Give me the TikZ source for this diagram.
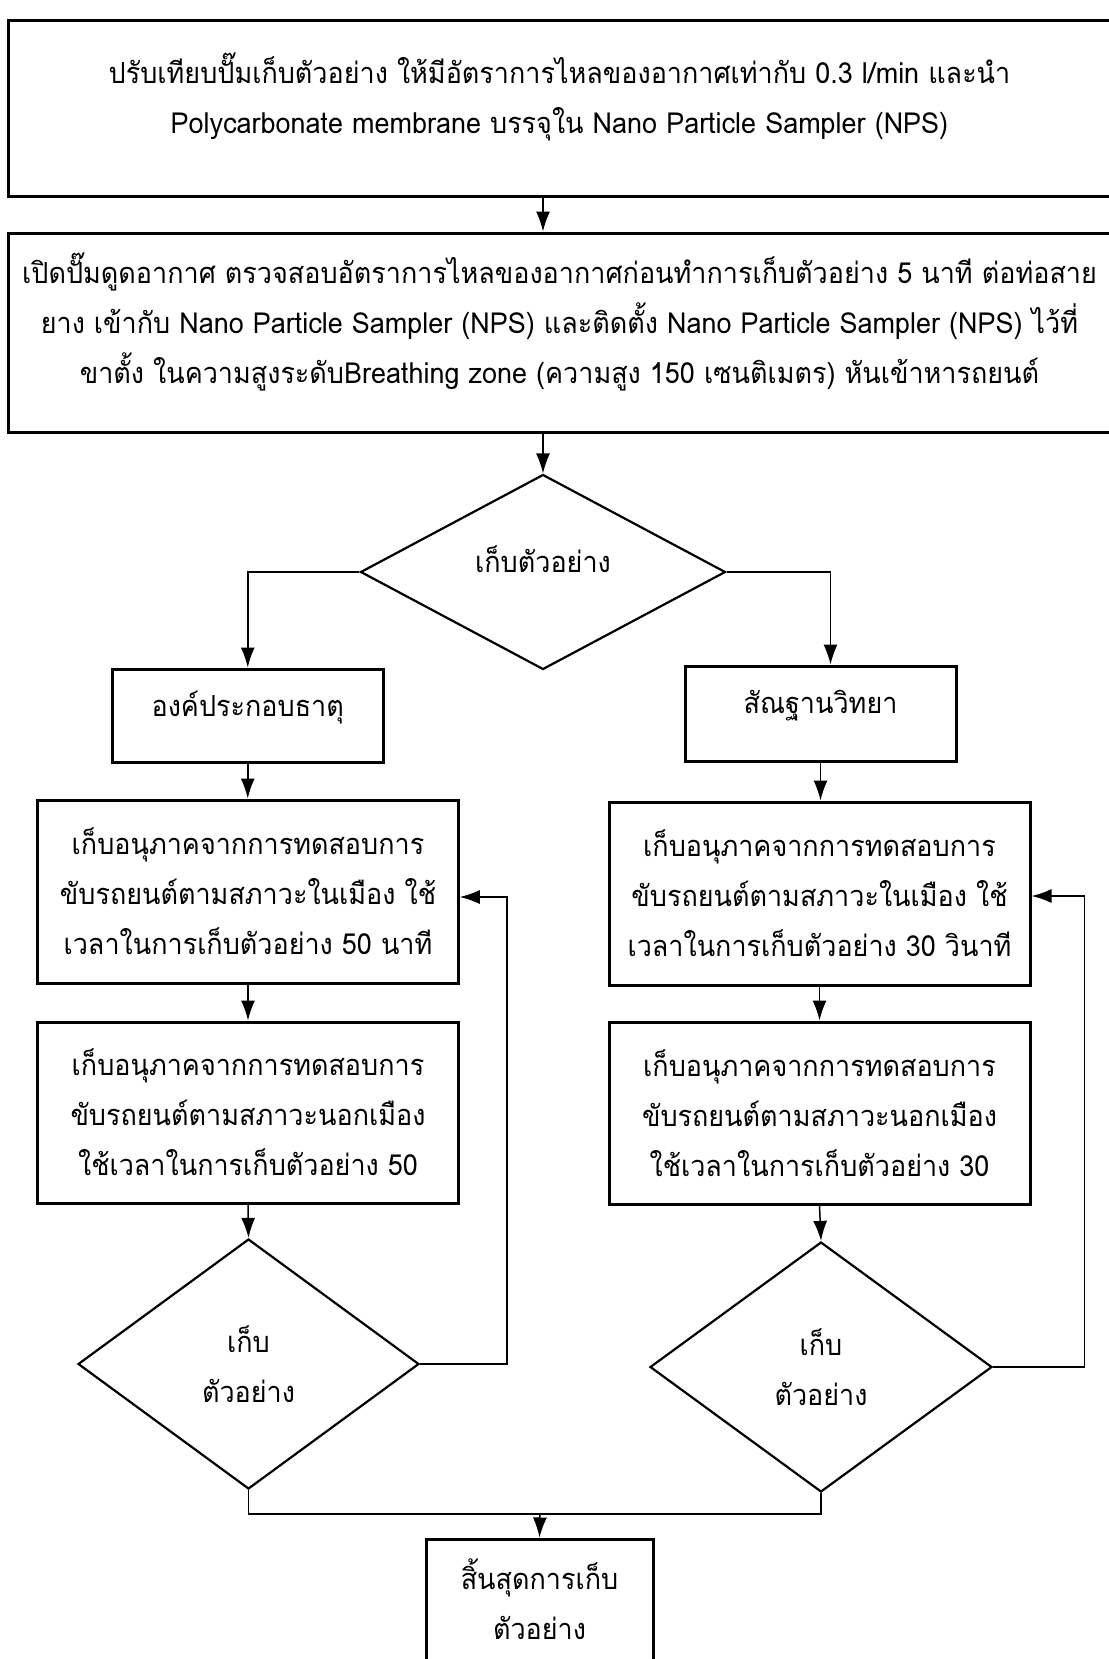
\documentclass[tikz,border=0pt]{standalone}
\usepackage{fontspec}
\newfontfamily\thai[Script=Thai, FakeStretch=0.93]{Loma}
\usetikzlibrary{arrows.meta,shapes.geometric}

\begin{document}
\begin{tikzpicture}[x=1pt, y=-1pt,
        box/.style = {draw, line width=3pt, align=center, inner sep=0pt, font = {\thai\fontsize{29}{50}\selectfont}},
        decision/.style = {diamond, draw, line width=2.2pt, align=center, inner sep=0pt, font = {\thai\fontsize{29}{50}\selectfont}},
        link/.style = {line width=1.5pt},
        arr/.style = {link, -{Latex[length=20pt, width=14pt]}}]
        \useasboundingbox (0,0) rectangle (1108,1659);
        \node[box, minimum width=1102pt, minimum height=175pt, text depth=30pt] (b1) at (559.5,108.5) {ปรับเทียบปั๊มเก็บตัวอย่าง ให้มีอัตราการไหลของอากาศเท่ากับ 0.3 l/min และนำ\\Polycarbonate membrane บรรจุใน Nano Particle Sampler (NPS)};
        \node[box, minimum width=1102pt, minimum height=199pt, text depth=28pt] (b2) at (559.5,332.5) {เปิดปั๊มดูดอากาศ ตรวจสอบอัตราการไหลของอากาศก่อนทำการเก็บตัวอย่าง 5 นาที ต่อท่อสาย\\ยาง เข้ากับ Nano Particle Sampler (NPS) และติดตั้ง Nano Particle Sampler (NPS) ไว้ที่\\ขาตั้ง ในความสูงระดับBreathing zone (ความสูง 150 เซนติเมตร) หันเข้าหารถยนต์};
        \node[decision, minimum width=365pt, minimum height=195pt, text depth=26pt] (d1) at (543,572) {เก็บตัวอย่าง};
        \node[box, minimum width=271.5pt, minimum height=93pt, text depth=24pt] (l1) at (247.75,715.5) {องค์ประกอบธาตุ};
        \node[box, minimum width=271pt, minimum height=95pt, text depth=24pt] (r1) at (820.5,713.5) {สัณฐานวิทยา};
        \node[box, minimum width=420.5pt, minimum height=183pt] (l2) at (248,891.5) {เก็บอนุภาคจากการทดสอบการ\\ขับรถยนต์ตามสภาวะในเมือง ใช้\\เวลาในการเก็บตัวอย่าง 50 นาที};
        \node[box, minimum width=421pt, minimum height=183pt] (r2) at (819.5,893.5) {เก็บอนุภาคจากการทดสอบการ\\ขับรถยนต์ตามสภาวะในเมือง ใช้\\เวลาในการเก็บตัวอย่าง 30 วินาที};
        \node[box, minimum width=420.5pt, minimum height=181pt] (l3) at (248,1112.5) {เก็บอนุภาคจากการทดสอบการ\\ขับรถยนต์ตามสภาวะนอกเมือง\\ใช้เวลาในการเก็บตัวอย่าง 50};
        \node[box, minimum width=421pt, minimum height=182pt] (r3) at (819.5,1113) {เก็บอนุภาคจากการทดสอบการ\\ขับรถยนต์ตามสภาวะนอกเมือง\\ใช้เวลาในการเก็บตัวอย่าง 30};
        \node[decision, minimum width=341pt, minimum height=250pt] (dl) at (248.5,1364) {เก็บ\\ตัวอย่าง};
        \node[decision, minimum width=342pt, minimum height=250pt] (dr) at (821,1367) {เก็บ\\ตัวอย่าง};
        \node[box, minimum width=227pt, minimum height=134pt, text depth=14pt] (fin) at (539.5,1606) {สิ้นสุดการเก็บ\\ตัวอย่าง};
        \coordinate (lloop) at (507,897);
        \coordinate (rloop) at (1084.5,896);
        \coordinate (merge) at (540,1514);
        \draw[arr] (b1.south -| d1.north) -- (b2.north -| d1.north);
        \draw[arr] (b2.south -| d1.north) -- (d1.north);
        \draw[arr] (d1.west) -| (l1.north);
        \draw[arr] (d1.east) -| ([xshift=10pt]r1.north);
        \draw[arr] (l1.south) -- (l1.south |- l2.north);
        \draw[arr] (r1.south) -- (r1.south |- r2.north);
        \draw[arr] (l2.south) -- (l3.north);
        \draw[arr] (r2.south) -- (r3.north);
        \draw[arr] (l3.south) -- (dl.north);
        \draw[arr] (r3.south) -- (dr.north);
        \draw[arr] (dl.east) -| (lloop) -- (lloop -| l2.east);
        \draw[arr] (dr.east) -| (rloop) -- (rloop -| r2.east);
        \draw[link] (dl.south) |- (merge) -| (dr.south);
        \draw[arr] (merge) -- (fin.north);
    \end{tikzpicture}
\end{document}
